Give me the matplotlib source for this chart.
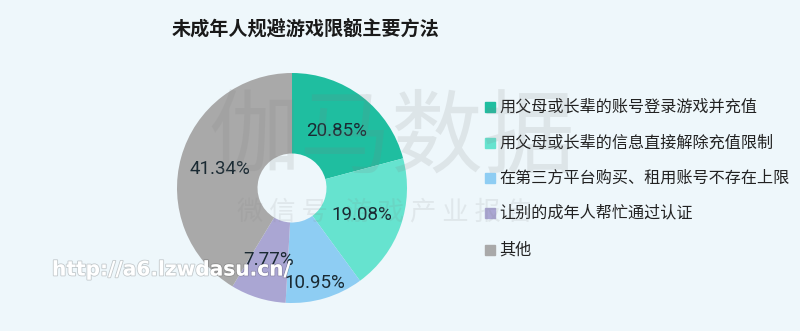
import matplotlib
matplotlib.use("Agg")
import matplotlib.pyplot as plt
import matplotlib.patheffects as pe
import numpy as np

plt.rcParams['font.family'] = ['Noto Sans CJK SC', 'DejaVu Sans']

title = "未成年人规避游戏限额主要方法"
categories = ["用父母或长辈的账号登录游戏并充值",
              "用父母或长辈的信息直接解除充值限制",
              "在第三方平台购买、租用账号不存在上限",
              "让别的成年人帮忙通过认证",
              "其他"]
values = [20.85, 19.08, 10.95, 7.77, 41.34]
labels = ["20.85%", "19.08%", "10.95%", "7.77%", "41.34%"]
colors = ["#1fbea0", "#66e3cf", "#8ecdf3", "#aaa6d3", "#a9a9a9"]

# label placement styling (radius fraction, angle offset in degrees)
label_r = [0.63, 0.65, 0.85, 0.66, 0.645]
label_dang = [0, -2, -3, -1, 1]

bg = "#eef7fb"
W, H = 800, 331
fig = plt.figure(figsize=(8, 3.31), dpi=100, facecolor=bg)

cx, cy, R = 292, 188, 115
ax = fig.add_axes([(cx - R) / W, (H - cy - R) / H, 2 * R / W, 2 * R / H])
ax.set_facecolor(bg)
wedges, _ = ax.pie(values, colors=colors, startangle=90, counterclock=False,
                   radius=1.0, wedgeprops=dict(width=0.70, linewidth=0))
ax.set_xlim(-1, 1)
ax.set_ylim(-1, 1)
ax.set_aspect('equal')
ax.axis('off')

for w, lab, r, da in zip(wedges, labels, label_r, label_dang):
    ang = np.deg2rad((w.theta1 + w.theta2) / 2 + da)
    ax.text(r * np.cos(ang), r * np.sin(ang), lab, ha='center', va='center',
            fontsize=13.5, color='#1a2a33', family=['Roboto', 'DejaVu Sans'])

# title
fig.text(172 / W, 1 - 29 / H, title, fontsize=13.8, fontweight='bold',
         color='#1a1a1a', ha='left', va='center')

# legend
ys = [107, 143, 178, 213, 250]
for y, c, t in zip(ys, colors, categories):
    fig.patches.append(plt.Rectangle(((490 - 5) / W, (H - y - 5) / H), 10 / W, 10 / H,
                                     transform=fig.transFigure, color=c, zorder=3))
    fig.text(499 / W, 1 - y / H, t, fontsize=11.6, color='#222222', ha='left', va='center')

# watermarks
fig.text(392 / W, 1 - 140 / H, "伽马数据", fontsize=66, color='#808080', alpha=0.15,
         ha='center', va='center', zorder=10)
fig.text(385 / W, 1 - 213 / H, "微 信 号   游 戏 产 业 报 告", fontsize=19, color='#808080',
         alpha=0.13, ha='center', va='center', zorder=10)
fig.text(52 / W, 1 - 270 / H, "http://a6.lzwdasu.cn/", fontsize=14.5, fontweight='bold',
         color='white', ha='left', va='center', zorder=11, family=['DejaVu Sans'],
         path_effects=[pe.withStroke(linewidth=1.2, foreground='#00000030')])

fig.savefig("out.png", dpi=100, facecolor=bg)
